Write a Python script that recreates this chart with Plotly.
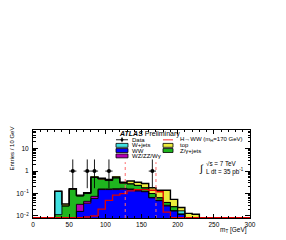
import numpy as np
import plotly.graph_objects as go

# ---- data (10 GeV bins, 0-300 GeV) ----
bin_edges = list(range(0, 310, 10))
ww      = [0,0,0,0,0,0,0.016,0.037,0.06,0.15,0.15,0.15,0.155,0.15,0.13,0.12,0.064,0.048,0.028,0.017,0.012,0,0,0,0,0,0,0,0,0]
wz      = [0,0,0,0,0,0,0.017,0.008,0.015,0.01,0.01,0.015,0.015,0.01,0.01,0.005,0.003,0.002,0.002,0,0,0,0,0,0,0,0,0,0,0]
zjets   = [0,0,0,0.0115,0.028,0.155,0.045,0.055,0.445,0.28,0.22,0.335,0.12,0.11,0.09,0.055,0.033,0.015,0.01,0.009,0,0,0,0,0,0,0,0,0,0]
wjets   = [0,0,0,0.1145,0,0,0,0,0,0,0,0,0,0,0,0,0,0,0,0,0.005,0,0,0,0,0,0,0,0,0]
top     = [0,0,0,0,0.006,0.011,0.007,0.01,0.03,0.04,0.04,0.05,0.03,0.09,0.09,0.10,0.08,0.075,0.10,0.029,0.007,0.013,0.012,0,0,0,0,0,0,0]
signal  = [0,0,0,0,0,0,0,0.009,0.01,0.02,0.05,0.085,0.10,0.13,0.15,0.15,0.14,0.12,0.015,0,0,0,0,0,0,0,0,0,0,0]
data    = [0,0,0,0,0,1,0,1,1,0,1,0,0,0,0,0,1,0,0,0,0,0,0,0,0,0,0,0,0,0]
data_err_up = 2.30     # Poisson 68% upper for n=1
data_err_dn = 0.827    # Poisson 68% lower for n=1
m_H = 170
cut_lo, cut_hi = 0.75 * m_H, m_H
cut_line_top = 2.5
y_log_range = [-2.09, 1.83]
x_ticks = [0, 50, 100, 150, 200, 250, 300]
y_ticks = [0.01, 0.1, 1, 10]
y_ticktext = ["10<sup>−2</sup>", "10<sup>−1</sup>", "1", "10"]

components = [
    ("WW", ww, "#0000ff"),
    ("WZ/ZZ/Wγ", wz, "#b400b4"),
    ("Z/γ+jets", zjets, "#1fb51f"),
    ("W+jets", wjets, "#40e0e0"),
    ("top", top, "#ecec3c"),
]

edges = np.array(bin_edges, dtype=float)
centers = edges[:-1] + 5
floor = 10 ** y_log_range[0]

fig = go.Figure()

for name, vals, col in components:
    v = [x if x > 0 else None for x in vals]
    fig.add_trace(go.Bar(x=centers, y=v, width=10, name=name,
                         marker=dict(color=col, line=dict(width=0)),
                         showlegend=False))

cum = np.zeros(len(centers))
for i, (name, vals, col) in enumerate(components):
    cum = cum + np.array(vals)
    yy = np.where(cum > 0, cum, floor)
    xs = np.append(edges[:-1], edges[-1])
    ys = np.append(yy, yy[-1])
    fig.add_trace(go.Scatter(x=xs, y=ys, mode="lines",
                             line=dict(color="black", width=1.4 if i == len(components) - 1 else 0.9, shape="hv"),
                             showlegend=False, hoverinfo="skip"))

sig = np.array(signal)
sy = np.where(sig > 0, sig, floor * 1.03)
fig.add_trace(go.Scatter(x=np.append(edges[:-1], edges[-1]), y=np.append(sy, sy[-1]), mode="lines",
                         line=dict(color="#e00000", width=1.3, shape="hv"), showlegend=False))

for c in (cut_lo, cut_hi):
    fig.add_trace(go.Scatter(x=[c, c], y=[floor, cut_line_top], mode="lines",
                             line=dict(color="#ff6a6a", width=1, dash="dot"), showlegend=False))

d = np.array(data)
mask = d > 0
fig.add_trace(go.Scatter(x=centers[mask], y=d[mask], mode="markers",
                         marker=dict(color="black", size=4),
                         error_y=dict(type="data", symmetric=False, array=[data_err_up] * int(mask.sum()),
                                      arrayminus=[data_err_dn] * int(mask.sum()), color="black", thickness=0.9, width=0),
                         error_x=dict(type="constant", value=5, color="black", thickness=0.9, width=0),
                         showlegend=False))

L, R, T, B = 33, 36, 130, 20
W, H = 286, 240
pw, ph = W - L - R, H - T - B
def px(x): return (x - L) / pw
def py(y): return (H - B - y) / ph

font = "Liberation Sans, Arial, Helvetica, sans-serif"
minor_y = [k * 10.0 ** e for e in range(-3, 2) for k in range(2, 10)]
minor_y = [v for v in minor_y if y_log_range[0] <= np.log10(v) <= y_log_range[1]]

fig.update_layout(
    width=W, height=H, margin=dict(l=L, r=R, t=T, b=B),
    paper_bgcolor="white", plot_bgcolor="white",
    barmode="stack", bargap=0,
    font=dict(family=font, size=7, color="black"),
    xaxis=dict(range=[0, 300], tickvals=x_ticks, ticks="inside", ticklen=4, tickwidth=0.8, tickcolor="black",
               showline=True, linecolor="black", linewidth=1, mirror="ticks", showgrid=False, zeroline=False,
               minor=dict(tickvals=list(range(0, 301, 10)), ticks="inside", ticklen=2, tickwidth=0.8, tickcolor="black"),
               tickfont=dict(size=6.5), ticklabelstandoff=0),
    yaxis=dict(type="log", range=y_log_range, tickvals=y_ticks, ticktext=y_ticktext, ticks="inside", ticklen=5,
               tickwidth=0.8, tickcolor="black", showline=True, linecolor="black", linewidth=1, mirror="ticks",
               showgrid=False, zeroline=False,
               minor=dict(tickvals=minor_y, ticks="inside", ticklen=2.5, tickwidth=0.8, tickcolor="black"),
               tickfont=dict(size=6.5), ticklabelstandoff=2),
)

ann = []
ann.append(dict(x=px(117), y=py(134), xref="paper", yref="paper", xanchor="left", yanchor="middle",
                text="<b><i>ATLAS</i></b> Preliminary", showarrow=False, font=dict(size=7)))
shapes = []
rows = [140, 145.7, 151, 156.5]
col1 = (116, 128, 130)
col2 = (163, 173, 178)
leg1 = [("Data", None), ("W+jets", "#40e0e0"), ("WW", "#0000ff"), ("WZ/ZZ/Wγ", "#b400b4")]
leg2 = [("H→WW (m<sub>H</sub>=170 GeV)", "line"), ("top", "#ecec3c"), ("Z/γ+jets", "#1fb51f")]
for (label, col), r in zip(leg1, rows):
    if col is None:
        shapes.append(dict(type="line", xref="paper", yref="paper", x0=px(col1[0]), x1=px(col1[1]), y0=py(r), y1=py(r),
                           line=dict(color="black", width=0.9)))
        shapes.append(dict(type="line", xref="paper", yref="paper", x0=px(122), x1=px(122), y0=py(r - 2.5), y1=py(r + 2.5),
                           line=dict(color="black", width=0.9)))
        shapes.append(dict(type="circle", xref="paper", yref="paper", x0=px(120.8), x1=px(123.2), y0=py(r - 1.2), y1=py(r + 1.2),
                           fillcolor="black", line=dict(color="black", width=0.5)))
    else:
        shapes.append(dict(type="rect", xref="paper", yref="paper", x0=px(col1[0]), x1=px(col1[1]), y0=py(r - 2), y1=py(r + 2),
                           fillcolor=col, line=dict(color="black", width=0.8)))
    ann.append(dict(x=px(col1[2]), y=py(r), xref="paper", yref="paper", xanchor="left", yanchor="middle",
                    text=label, showarrow=False, font=dict(size=6)))
for (label, col), r in zip(leg2, rows):
    if col == "line":
        shapes.append(dict(type="line", xref="paper", yref="paper", x0=px(col2[0]), x1=px(col2[1]), y0=py(r), y1=py(r),
                           line=dict(color="#ff7070", width=1.5)))
    else:
        shapes.append(dict(type="rect", xref="paper", yref="paper", x0=px(col2[0]), x1=px(col2[1]), y0=py(r - 2), y1=py(r + 2),
                           fillcolor=col, line=dict(color="black", width=0.8)))
    ann.append(dict(x=px(col2[2]), y=py(r), xref="paper", yref="paper", xanchor="left", yanchor="middle",
                    text=label, showarrow=False, font=dict(size=6)))

ann.append(dict(x=px(204), y=py(164), xref="paper", yref="paper", xanchor="left", yanchor="middle",
                text="√s = 7 TeV", showarrow=False, font=dict(size=6.3)))
ann.append(dict(x=px(197), y=py(169.5), xref="paper", yref="paper", xanchor="left", yanchor="middle",
                text="∫", showarrow=False, font=dict(size=10)))
ann.append(dict(x=px(204), y=py(172), xref="paper", yref="paper", xanchor="left", yanchor="middle",
                text="L dt = 35 pb<sup>-1</sup>", showarrow=False, font=dict(size=6.3)))
ann.append(dict(x=px(249), y=py(232), xref="paper", yref="paper", xanchor="right", yanchor="middle",
                text="m<sub>T</sub> [GeV]", showarrow=False, font=dict(size=6.5)))
ann.append(dict(x=px(12), y=py(149), xref="paper", yref="paper", xanchor="center", yanchor="middle",
                text="Entries / 10 GeV", textangle=-90, showarrow=False, font=dict(size=6)))

fig.update_layout(annotations=ann, shapes=shapes)
fig.write_html("out.html", config={"displayModeBar": False},
               post_script="document.body.style.margin='0px';document.body.style.overflow='hidden';")
